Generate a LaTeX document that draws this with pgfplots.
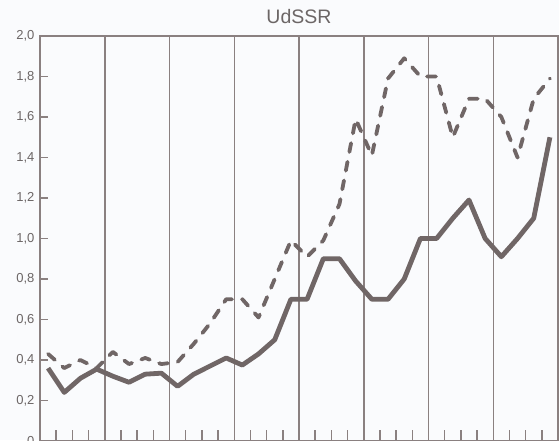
\documentclass[border=0pt]{standalone}
\usepackage{fontspec}
\setmainfont{Liberation Sans}
\usepackage{pgfplots}
\pgfplotsset{compat=1.18}
\definecolor{lineC}{RGB}{112,102,102}
\definecolor{gridC}{RGB}{138,128,128}
\definecolor{txtC}{RGB}{108,102,102}
\definecolor{bgC}{RGB}{250,251,253}
\begin{document}
\begin{tikzpicture}[x=1pt,y=1pt]
\fill[bgC] (-40,1) rectangle (519,441);
\begin{axis}[
  at={(0,0)}, anchor=south west,
  scale only axis, width=518pt, height=405pt,
  xmin=0, xmax=32, ymin=0, ymax=2,
  xtick={0,4,...,32}, minor xtick={1,2,3,5,6,7,9,10,11,13,14,15,17,18,19,21,22,23,25,26,27,29,30,31},
  xticklabels={},
  xmajorgrids,
  major x grid style={gridC, line width=1.5pt},
  xtick pos=bottom, ytick pos=left,
  tick align=inside,
  major tick length=8pt, minor tick length=11pt,
  tick style={gridC, line width=1.5pt},
  ytick={0,0.2,...,2.0},
  yticklabels={{0},{0,2},{0,4},{0,6},{0,8},{1,0},{1,2},{1,4},{1,6},{1,8},{2,0}},
  yticklabel style={font=\fontsize{13}{13}\selectfont, text=txtC, xshift=-2pt},
  axis line style={gridC, line width=1.6pt},
  title={UdSSR},
  title style={at={(0.5,1)}, anchor=base, yshift=6pt, inner sep=0pt, font=\fontsize{19.5}{20}\selectfont, text=txtC},
  clip=false,
]
\addplot[lineC, line width=4.8pt, line join=round] coordinates {
(0.5,0.36) (1.5,0.24) (2.5,0.31) (3.5,0.355) (4.5,0.32) (5.5,0.29) (6.5,0.33) (7.5,0.335)
(8.5,0.27) (9.5,0.33) (10.5,0.37) (11.5,0.41) (12.5,0.375) (13.5,0.43) (14.5,0.50) (15.5,0.70)
(16.5,0.70) (17.5,0.90) (18.5,0.90) (19.5,0.79) (20.5,0.70) (21.5,0.70) (22.5,0.80) (23.5,1.00)
(24.5,1.00) (25.5,1.10) (26.5,1.19) (27.5,1.00) (28.5,0.91) (29.5,1.00) (30.5,1.10) (31.5,1.50)
};
\addplot[lineC, line width=3.8pt, line join=round, line cap=round, dash pattern=on 9pt off 10pt] coordinates {
(0.5,0.43) (1.5,0.36) (2.5,0.40) (3.5,0.36) (4.5,0.44) (5.5,0.38) (6.5,0.41) (7.5,0.38)
(8.5,0.39) (9.5,0.48) (10.5,0.58) (11.5,0.70) (12.5,0.70) (13.5,0.61) (14.5,0.80) (15.5,0.99)
(16.5,0.91) (17.5,0.99) (18.5,1.17) (19.5,1.59) (20.5,1.41) (21.5,1.79) (22.5,1.89) (23.5,1.80)
(24.5,1.80) (25.5,1.50) (26.5,1.69) (27.5,1.69) (28.5,1.60) (29.5,1.40) (30.5,1.69) (31.5,1.79)
};
\end{axis}
\pgfresetboundingbox
\useasboundingbox (-40,1) rectangle (519,441);
\end{tikzpicture}
\end{document}
